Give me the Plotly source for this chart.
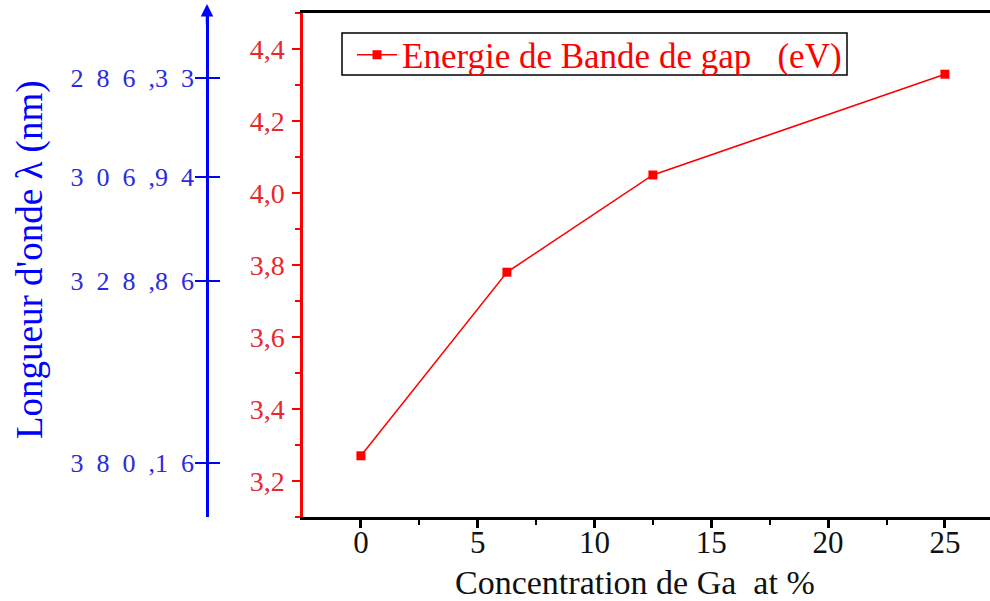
import plotly.graph_objects as go

concentration = [0, 6.25, 12.5, 25]
energy = [3.27, 3.78, 4.05, 4.33]
wavelength_labels = ["286,33", "306,94", "328,86", "380,16"]
wavelength_tick_energy = [4.32, 4.045, 3.755, 3.25]
x_ticks = [0, 5, 10, 15, 20, 25]
y_ticks = [3.2, 3.4, 3.6, 3.8, 4.0, 4.2, 4.4]

W, H = 990, 601
L_PLOT, R_PLOT, T_PLOT, B_PLOT = 303, 990, 13, 517
PH = B_PLOT - T_PLOT
FONT = "Liberation Serif"
RED = "#ff0000"
RED_TXT = "#e8282a"
BLUE = "#0000ff"
BLUE_TXT = "#2a2ae0"

def spaced(lbl):
    ip, fp = lbl.split(",")
    sp = "\u2002"
    return sp.join(ip) + sp + "," + sp.join(fp)

def px_x(px):
    return px / W

def px_y(py):
    return (B_PLOT - py) / PH

fig = go.Figure()
fig.add_trace(go.Scatter(
    x=concentration, y=energy, mode="lines+markers",
    name="Energie de Bande de gap \u00a0 (eV)",
    line=dict(color=RED, width=1.5),
    marker=dict(symbol="square", size=9, color=RED),
))
fig.add_trace(go.Scatter(x=[None], y=[None], yaxis="y2", showlegend=False))
fig.add_trace(go.Scatter(x=[None], y=[None], yaxis="y3", showlegend=False))

yr = [3.1, 4.5]
fig.update_layout(
    width=W, height=H,
    margin=dict(l=0, r=0, t=T_PLOT, b=H - B_PLOT),
    paper_bgcolor="white", plot_bgcolor="white",
    separators=",.",
    font=dict(family=FONT),
    showlegend=True,
    legend=dict(
        x=px_x(352), y=px_y(55), xanchor="left", yanchor="middle",
        borderwidth=0, bgcolor="rgba(0,0,0,0)",
        font=dict(family=FONT, size=35, color=RED),
        itemwidth=40, tracegroupgap=0,
    ),
    xaxis=dict(
        domain=[L_PLOT / W, 1], range=[-2.48, 26.93],
        showgrid=False, zeroline=False,
        showline=True, linecolor="black", linewidth=2.5, mirror=True,
        ticks="outside", ticklen=8, tickwidth=2.5, tickcolor="black",
        tickvals=x_ticks,
        minor=dict(ticks="outside", dtick=2.5, tick0=0, ticklen=5, tickwidth=2, tickcolor="black"),
        tickfont=dict(family=FONT, size=31, color="#111111"),
        ticklabelstandoff=-12,
    ),
    yaxis=dict(
        range=yr, showgrid=False, zeroline=False,
        showline=True, linecolor=RED, linewidth=2.5,
        ticks="outside", ticklen=8, tickwidth=2, tickcolor=RED,
        tickvals=y_ticks, tickformat=".1f",
        minor=dict(ticks="outside", dtick=0.1, tick0=3.1, ticklen=5, tickwidth=1.5, tickcolor=RED),
        tickfont=dict(family=FONT, size=28, color=RED_TXT),
        ticklabelstandoff=2,
    ),
    yaxis2=dict(
        overlaying="y", anchor="free", position=207 / W, side="left",
        range=yr, showgrid=False, zeroline=False,
        showline=True, linecolor=BLUE, linewidth=2.5,
        ticks="outside", ticklen=11, tickwidth=2, tickcolor=BLUE,
        tickvals=wavelength_tick_energy, ticktext=[spaced(s) for s in wavelength_labels],
        tickfont=dict(family=FONT, size=26, color=BLUE_TXT),
        ticklabelstandoff=-4,
    ),
    yaxis3=dict(
        overlaying="y", anchor="free", position=207 / W, side="left",
        range=yr, showgrid=False, zeroline=False, showline=False,
        ticks="inside", ticklen=12, tickwidth=2, tickcolor=BLUE,
        tickvals=wavelength_tick_energy, showticklabels=False,
    ),
)

# legend frame
fig.add_shape(type="rect", xref="paper", yref="paper",
              x0=px_x(342), x1=px_x(847), y0=px_y(75), y1=px_y(33),
              line=dict(color="black", width=1.5), fillcolor="rgba(0,0,0,0)", layer="above")

fig.add_annotation(
    xref="paper", yref="paper", x=px_x(207), y=px_y(4),
    ax=0, ay=22, axref="pixel", ayref="pixel",
    showarrow=True, arrowhead=2, arrowsize=1, arrowwidth=2.5, arrowcolor=BLUE, text="",
)
fig.add_annotation(
    xref="paper", yref="paper", x=px_x(635), y=px_y(582),
    xanchor="center", yanchor="middle", showarrow=False,
    text="Concentration de Ga \u00a0at %",
    font=dict(family=FONT, size=34, color="#111111"),
)
fig.add_annotation(
    xref="paper", yref="paper", x=px_x(30), y=px_y(260),
    xanchor="center", yanchor="middle", showarrow=False, textangle=-90,
    text="Longueur d'onde \u03bb (nm)",
    font=dict(family=FONT, size=37, color=BLUE),
)

fig.write_html("out.html")
